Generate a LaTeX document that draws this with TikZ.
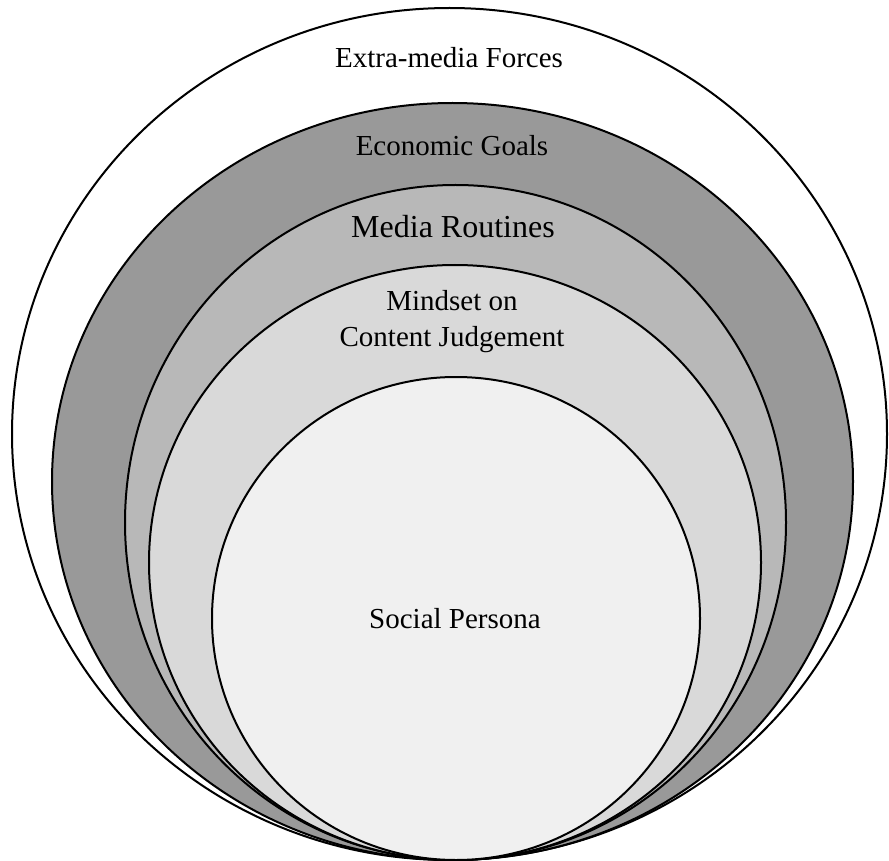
\documentclass[tikz,border=0pt]{standalone}
\usepackage{fontspec}
\setmainfont{Liberation Serif}
\usepackage{tikz}

\definecolor{goalsgray}{gray}{0.60}
\definecolor{routinegray}{gray}{0.72}
\definecolor{mindgray}{gray}{0.85}
\definecolor{personagray}{gray}{0.94}

\tikzset{
  ring/.style={draw=black, line width=1pt},
  label/.style={anchor=base, inner sep=0pt, font=\fontsize{14.5}{14}\selectfont},
}

\begin{document}
\begin{tikzpicture}[x=0.5pt,y=-0.5pt]
                \useasboundingbox (0,0) rectangle (889,861);
                \coordinate (F) at (449.5,434);
                \coordinate (G) at (452.5,481.5);
                \coordinate (R) at (455.5,522.5);
                \coordinate (M) at (455,562.5);
                \coordinate (P) at (456,618.5);

                \draw[ring, fill=white] (F) ellipse [x radius=437.5, y radius=426];
                \draw[ring, fill=goalsgray] (G) ellipse [x radius=400.5, y radius=378.5];
                \draw[ring, fill=routinegray] (R) ellipse [x radius=330.5, y radius=337.5];
                \draw[ring, fill=mindgray] (M) ellipse [x radius=306, y radius=297.5];
                \draw[ring, fill=personagray] (P) ellipse [x radius=244, y radius=241.5];

                \node[label] (forces) at (449,68) {Extra-media Forces};
                \node[label] (goals) at (452,156) {Economic Goals};
                \node[label, font=\fontsize{16}{16}\selectfont] (routines) at (453,238) {Media Routines};
                \node[label] (mindset) at (452,311) {Mindset on};
                \node[label] (judgement) at (452,346) {Content Judgement};
                \node[label] (persona) at (455,628) {Social Persona};
                % \node[label] (persona2) at (455,600) {Individual};

            \end{tikzpicture}
\end{document}
